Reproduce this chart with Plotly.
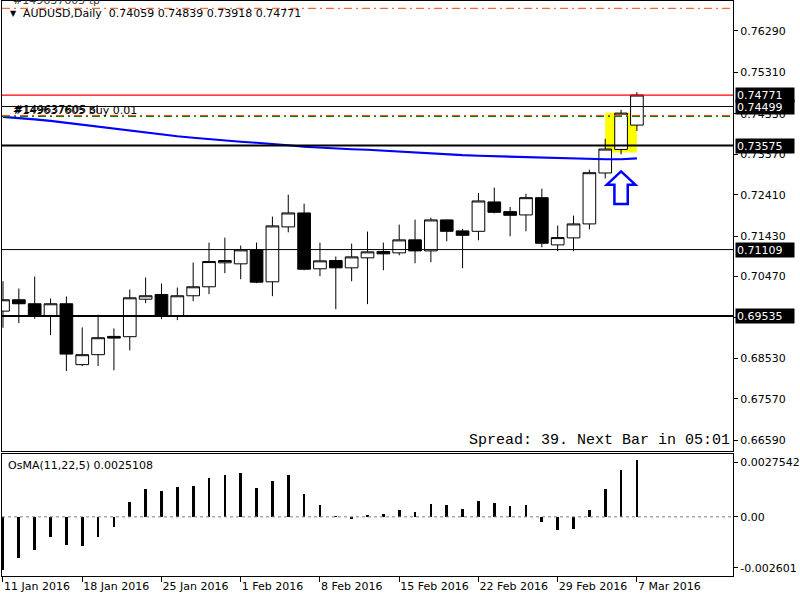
import plotly.graph_objects as go

# ---------------- data ----------------
tick_labels = ["11 Jan 2016", "18 Jan 2016", "25 Jan 2016", "1 Feb 2016", "8 Feb 2016",
               "15 Feb 2016", "22 Feb 2016", "29 Feb 2016", "7 Mar 2016"]
tick_bars = [0, 5, 10, 15, 20, 25, 30, 35, 40]

opens = [0.69650, 0.69919, 0.69825, 0.69531, 0.69825, 0.68382, 0.68618, 0.69051, 0.69044, 0.69933,
         0.70045, 0.69531, 0.70014, 0.70227, 0.70795, 0.70771, 0.71102, 0.70345, 0.71646, 0.71977,
         0.70653, 0.70849, 0.70676, 0.70913, 0.71062, 0.71031, 0.71339, 0.71078, 0.71812, 0.71552,
         0.71542, 0.72238, 0.72008, 0.71930, 0.72339, 0.71220, 0.71386, 0.71717, 0.72924, 0.73482, 0.74059]
highs = [0.70359, 0.70187, 0.70470, 0.69950, 0.69997, 0.69264, 0.69564, 0.69240, 0.70163, 0.70447,
         0.70305, 0.70210, 0.70802, 0.71275, 0.71393, 0.71204, 0.71275, 0.71890, 0.72410, 0.72197,
         0.71275, 0.70944, 0.71251, 0.71535, 0.71275, 0.71701, 0.71819, 0.71866, 0.71820, 0.71599,
         0.72451, 0.72576, 0.72119, 0.72434, 0.72552, 0.71677, 0.71914, 0.73002, 0.73735, 0.74421, 0.74839]
lows = [0.69257, 0.69366, 0.69470, 0.69082, 0.68230, 0.68348, 0.68348, 0.68247, 0.68720, 0.69839,
        0.69460, 0.69437, 0.69886, 0.70052, 0.70549, 0.70407, 0.70312, 0.70004, 0.71518, 0.70619,
        0.70478, 0.69697, 0.70359, 0.69815, 0.70619, 0.70974, 0.70785, 0.70809, 0.71306, 0.70667,
        0.71329, 0.71968, 0.71424, 0.71542, 0.71164, 0.71069, 0.71069, 0.71589, 0.72796, 0.73364, 0.73918]
closes = [0.69919, 0.69825, 0.69531, 0.69825, 0.68632, 0.68618, 0.69020, 0.69011, 0.69966, 0.70014,
          0.69531, 0.70014, 0.70227, 0.70825, 0.70849, 0.71102, 0.70336, 0.71670, 0.71977, 0.70643,
          0.70842, 0.70676, 0.70936, 0.71055, 0.71007, 0.71339, 0.71078, 0.71812, 0.71542, 0.71447,
          0.72261, 0.71992, 0.71921, 0.72339, 0.71258, 0.71393, 0.71717, 0.72931, 0.73491, 0.74343, 0.74771]
ma_values = [0.74255, 0.74232, 0.74196, 0.74161, 0.74114, 0.74066, 0.74019, 0.73972, 0.73924, 0.73877,
             0.73830, 0.73794, 0.73759, 0.73723, 0.73688, 0.73664, 0.73640, 0.73617, 0.73581, 0.73546,
             0.73522, 0.73498, 0.73487, 0.73475, 0.73451, 0.73435, 0.73404, 0.73380, 0.73357, 0.73345,
             0.73333, 0.73321, 0.73309, 0.73297, 0.73286, 0.73269, 0.73257, 0.73250, 0.73250, 0.73250, 0.73269]
osma_values = [-0.002365, -0.001837, -0.001484, -0.000881, -0.001233, -0.001277, -0.000881, -0.000441,
               0.000630, 0.001233, 0.001145, 0.001322, 0.001366, 0.001718, 0.001850, 0.001938,
               0.001277, 0.001586, 0.001850, 0.001013, 0.000529, 0.000013, -0.000119, 0.000088,
               0.000132, 0.000308, 0.000220, 0.000573, 0.000529, 0.000352, 0.000705, 0.000617,
               0.000485, 0.000529, -0.000251, -0.000603, -0.000559, 0.000308, 0.001233, 0.002070, 0.0025108]

price_ticks = [0.76290, 0.75310, 0.74330, 0.73370, 0.72410, 0.71430, 0.70470, 0.69490, 0.68530, 0.67570, 0.66590]
price_range = [0.66330, 0.77000]
osma_range = [-0.002601, 0.0027542]

bid_price = 0.74771
black_line_price = 0.74499
open_price = 0.74263
sl_price = 0.74286
tp_price = 0.76827
thick_levels = [0.73575, 0.69535]
thin_levels = [0.71109]
tag_prices = [0.74771, 0.74499, 0.73575, 0.71109, 0.69535]
highlight_box = dict(x0=38.0, x1=40.0, y0=0.73411, y1=0.74350)
arrow_bar = 39
arrow_top, arrow_neck, arrow_bottom = 0.72961, 0.72647, 0.72190

bars = list(range(len(opens)))
FONT = "DejaVu Sans"

fig = go.Figure()

fig.add_trace(go.Candlestick(
    x=bars, open=opens, high=highs, low=lows, close=closes,
    increasing=dict(line=dict(color="black", width=1), fillcolor="white"),
    decreasing=dict(line=dict(color="black", width=1), fillcolor="black"),
    whiskerwidth=0, hoverinfo="skip", showlegend=False, xaxis="x", yaxis="y"))

fig.add_trace(go.Scatter(x=bars, y=ma_values, mode="lines",
                         line=dict(color="#0000FF", width=2.2),
                         hoverinfo="skip", showlegend=False, xaxis="x", yaxis="y"))

fig.add_trace(go.Bar(x=bars, y=osma_values, width=0.17, marker=dict(color="black", line=dict(width=0)),
                     hoverinfo="skip", showlegend=False, xaxis="x2", yaxis="y2"))

shapes = []
# highlight rectangle
shapes.append(dict(type="rect", xref="x", yref="y", layer="below", line=dict(width=0),
                   fillcolor="#FFFF00", **highlight_box))


def hline(price, color, width, dash="solid", yref="y"):
    return dict(type="line", xref="x domain", yref=yref, x0=0, x1=1, y0=price, y1=price,
                line=dict(color=color, width=width, dash=dash))


shapes.append(hline(tp_price, "#FF4500", 1, "8px,4px,2px,4px"))
shapes.append(hline(bid_price, "#FF0000", 1.2))
shapes.append(hline(black_line_price, "black", 1))
shapes.append(hline(sl_price, "#FF4500", 1, "8px,4px,2px,4px"))
shapes.append(hline(open_price, "#008000", 1, "8px,4px,2px,4px"))
for p in thick_levels:
    shapes.append(hline(p, "black", 2.2))
for p in thin_levels:
    shapes.append(hline(p, "black", 1))
# zero line of OsMA
shapes.append(dict(type="line", xref="x2 domain", yref="y2", x0=0, x1=1, y0=0, y1=0,
                   line=dict(color="#808080", width=1, dash="3px,3px")))

# arrow under bar
xc = arrow_bar
hw, sw = 0.9, 0.42
path = (f"M {xc},{arrow_top} L {xc + hw},{arrow_neck} L {xc + sw},{arrow_neck} "
        f"L {xc + sw},{arrow_bottom} L {xc - sw},{arrow_bottom} L {xc - sw},{arrow_neck} "
        f"L {xc - hw},{arrow_neck} Z")
shapes.append(dict(type="path", xref="x", yref="y", path=path,
                   line=dict(color="#0000FF", width=2.5), fillcolor="white"))

annotations = []
annotations.append(dict(xref="paper", yref="paper", x=0, y=1, xanchor="left", yanchor="middle",
                        xshift=6, yshift=-12, text="▼", showarrow=False,
                        font=dict(family=FONT, size=8, color="black")))
annotations.append(dict(xref="paper", yref="paper", x=0, y=1, xanchor="left", yanchor="middle",
                        xshift=19, yshift=-12,
                        text="AUDUSD,Daily&nbsp; 0.74059 0.74839 0.73918 0.74771",
                        showarrow=False, font=dict(family=FONT, size=11, color="black")))
annotations.append(dict(xref="paper", yref="paper", x=0, y=1, xanchor="left", yanchor="middle",
                        xshift=9, yshift=1, text="#149637605 tp", showarrow=False,
                        font=dict(family=FONT, size=11, color="#404040")))
annotations.append(dict(xref="paper", yref="y", x=0, y=sl_price, xanchor="left", yanchor="middle",
                        xshift=10, yshift=6, text="#149637605 sl", showarrow=False,
                        font=dict(family=FONT, size=11, color="black")))
annotations.append(dict(xref="paper", yref="y", x=0, y=open_price, xanchor="left", yanchor="middle",
                        xshift=9, yshift=6, text="#149637605 buy 0.01", showarrow=False,
                        font=dict(family=FONT, size=11, color="black")))
annotations.append(dict(xref="paper", yref="y domain", x=1, y=0, xanchor="right", yanchor="middle",
                        xshift=-1, yshift=11, text="Spread: 39. Next Bar in 05:01", showarrow=False,
                        font=dict(family="Liberation Mono", size=15, color="black")))
annotations.append(dict(xref="paper", yref="y2 domain", x=0, y=1, xanchor="left", yanchor="middle",
                        xshift=4, yshift=-11, text=f"OsMA(11,22,5) {osma_values[-1]:.7f}",
                        showarrow=False, font=dict(family=FONT, size=11, color="black")))
for p in tag_prices:
    annotations.append(dict(xref="paper", yref="y", x=1, y=p, xanchor="left", yanchor="middle",
                            xshift=2, text=f"{p:.5f}", showarrow=False, bgcolor="black",
                            width=56, height=12, align="left", borderpad=1,
                            font=dict(family=FONT, size=11, color="white")))

span = osma_range[1] - osma_range[0]
inset = 0.066 * span
osma_tickvals = [osma_range[1] - inset, 0, osma_range[0] + inset]
osma_ticktext = [f"{osma_range[1]:.7f}", "0.00", f"{osma_range[0]:.6f}"]

axis_common = dict(showgrid=False, zeroline=False, showline=True, mirror=True,
                   linecolor="black", linewidth=1)

fig.update_layout(
    width=800, height=600,
    margin=dict(l=2, r=60, t=0, b=24),
    paper_bgcolor="white", plot_bgcolor="white",
    font=dict(family=FONT, size=11, color="black"),
    boxgap=0.2, boxgroupgap=0,
    bargap=0,
    showlegend=False,
    xaxis=dict(domain=[0, 1], range=[-0.0625, 46.0625], anchor="y", showticklabels=False,
               ticks="", rangeslider=dict(visible=False), **axis_common),
    xaxis2=dict(domain=[0, 1], range=[-0.0625, 46.0625], anchor="y2", matches="x",
                tickvals=tick_bars, ticktext=tick_labels, ticks="outside", ticklen=5,
                tickcolor="black", ticklabelposition="outside right",
                tickfont=dict(family=FONT, size=11, color="black"), **axis_common),
    yaxis=dict(domain=[0.21701, 1], range=price_range, side="right", anchor="x",
               tickvals=price_ticks, ticktext=[f"{v:.5f}" for v in price_ticks],
               ticks="outside", ticklen=4, tickcolor="black",
               tickfont=dict(family=FONT, size=11, color="black"), **axis_common),
    yaxis2=dict(domain=[0, 0.2118], range=osma_range, side="right", anchor="x2",
                tickvals=osma_tickvals, ticktext=osma_ticktext,
                ticks="outside", ticklen=4, tickcolor="black",
                tickfont=dict(family=FONT, size=11, color="black"), **axis_common),
    shapes=shapes,
    annotations=annotations,
)

fig.write_html("out.html")
